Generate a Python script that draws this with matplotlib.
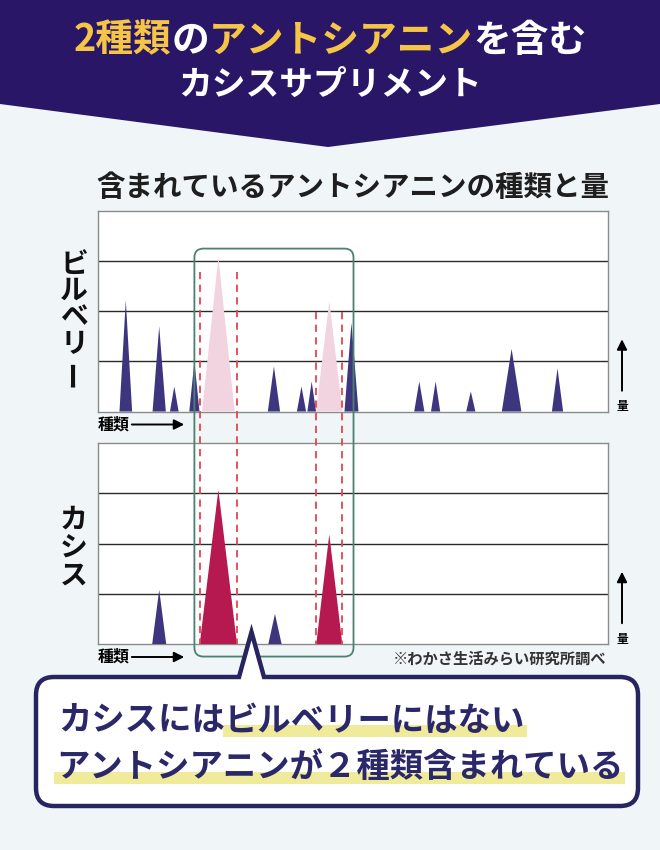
import numpy as np
import matplotlib
matplotlib.use("Agg")
import matplotlib.pyplot as plt
from matplotlib.path import Path
from matplotlib.patches import PathPatch, FancyBboxPatch, Rectangle, Polygon

plt.rcParams['font.family'] = ['Noto Sans CJK JP', 'DejaVu Sans']

W, H = 660, 850

# Peaks: position (0-100 along the "種類" axis), height (grid units), half width
bil_pos = [5.45, 12.0, 14.96, 18.9, 34.5, 39.9, 41.9, 49.7, 63.0, 66.2, 73.1, 81.1, 90.1]
bil_h = [2.22, 1.7, 0.5, 1.0, 0.9, 0.5, 0.6, 1.77, 0.6, 0.6, 0.4, 1.25, 0.86]
bil_w = [1.24, 1.3, 0.85, 1.0, 1.2, 0.9, 0.85, 1.37, 1.0, 0.9, 0.9, 1.92, 1.1]

# ghost peaks in bilberry (absent compounds)
ghost_pos = [23.6, 45.35]
ghost_h = [3.08, 2.2]
ghost_w = [3.2, 2.6]

cas_pos = [12.0, 34.7]
cas_h = [1.08, 0.6]
cas_w = [1.37, 1.3]

# compounds only in cassis
uniq_pos = [23.6, 45.35]
uniq_h = [3.07, 2.18]
uniq_w = [3.65, 2.55]
dash_top = [2.78, 1.98]

NAVY = "#3d367f"
PINK = "#f2d4e1"
CRIMSON = "#b5194f"
DASH = "#e0474e"
GREEN = "#4b8172"
BG = "#f0f5f7"
HEADER = "#2a1667"
GOLD = "#f5c645"
TXT = "#2b286a"

fig = plt.figure(figsize=(W / 100, H / 100), dpi=100)
fig.patch.set_facecolor(BG)

# background layer (header)
bg = fig.add_axes([0, 0, 1, 1], zorder=-1)
bg.set_xlim(0, W)
bg.set_ylim(H, 0)
bg.axis("off")
bg.add_patch(Polygon([(0, 0), (W, 0), (W, 104), (W / 2 - 2, 147), (0, 104)],
                     closed=True, facecolor=HEADER, edgecolor="none"))


def make_chart(bottom_px, top_px):
    ax = fig.add_axes([98 / W, (H - bottom_px) / H, 510 / W, (bottom_px - top_px) / H])
    ax.set_xlim(0, 100)
    ax.set_ylim(0, 4)
    ax.set_facecolor("white")
    ax.set_xticks([])
    ax.set_yticks([1, 2, 3])
    ax.tick_params(length=0, labelleft=False)
    ax.grid(axis="y", color="#2a2a2a", lw=1.0)
    for s in ax.spines.values():
        s.set_color("#8a8a8a")
        s.set_linewidth(1.0)
    return ax


def peaks(ax, pos, h, w, color):
    for c, hh, ww in zip(pos, h, w):
        ax.fill([c - ww, c, c + ww], [0, hh, 0], color=color, lw=0, zorder=3)


ax1 = make_chart(411.5, 211)
ax2 = make_chart(644, 443)

peaks(ax1, ghost_pos, ghost_h, ghost_w, PINK)
peaks(ax1, bil_pos, bil_h, bil_w, NAVY)
peaks(ax2, cas_pos, cas_h, cas_w, NAVY)
peaks(ax2, uniq_pos, uniq_h, uniq_w, CRIMSON)

# foreground layer
fg = fig.add_axes([0, 0, 1, 1], zorder=5)
fg.set_xlim(0, W)
fg.set_ylim(H, 0)
fg.axis("off")
fg.patch.set_alpha(0)


def px(ax, x, y):
    d = ax.transData.transform((x, y))
    return d[0], H - d[1]


# dashed guide lines at the base of the cassis-only peaks
for c, ww, top in zip(uniq_pos, uniq_w, dash_top):
    for xx in (c - ww, c + ww):
        x_a, y_a = px(ax1, xx, top)
        x_b, y_b = px(ax2, xx, 0)
        fg.plot([x_a, x_b], [y_a, y_b], color=DASH, lw=1.3, dashes=(4, 3))

# green frame around the two compounds
gx0, gy0 = px(ax1, 18.9, 3.25)
gx1, gy1 = px(ax2, 50.1, -0.25)
fg.add_patch(FancyBboxPatch((gx0, gy0), gx1 - gx0, gy1 - gy0,
                            boxstyle="round,pad=0,rounding_size=9",
                            facecolor="none", edgecolor=GREEN, lw=1.3))

# header title
renderer = fig.canvas.get_renderer()
segs = [("2種類", GOLD), ("の", "white"), ("アントシアニン", GOLD), ("を含む", "white")]
texts = [fg.text(0, 40, s, color=c, fontsize=27.2, fontweight="bold", va="center", ha="left")
         for s, c in segs]
widths = [t.get_window_extent(renderer).width for t in texts]
x = (W - sum(widths)) / 2
for t, wd in zip(texts, widths):
    t.set_x(x)
    x += wd
fg.text(W / 2, 84, "カシスサプリメント", color="white", fontsize=24.3,
        fontweight="bold", ha="center", va="center")

# chart title
fg.text(353, 188, "含まれているアントシアニンの種類と量", fontsize=20.5,
        fontweight="bold", color="#1e1e1e", ha="center", va="center")

# vertical side labels
for ch, yy in zip("ビルベリー", [265, 291, 317, 344, 373]):
    fg.text(74, yy, ch, fontsize=20, fontweight="bold", color="#111111",
            ha="center", va="center", rotation=90 if ch == "ー" else 0)
for ch, yy in zip("カシス", [520, 548, 576]):
    fg.text(74, yy, ch, fontsize=20, fontweight="bold", color="#111111",
            ha="center", va="center")

# axis hints
arrow = dict(arrowstyle="-|>,head_length=0.6,head_width=0.3", color="black", lw=1.4)
for base in (411.5, 644):
    fg.annotate("", xy=(622, base - 75), xytext=(622, base - 18), arrowprops=arrow)
    fg.text(622, base - 5, "量", fontsize=8.5, fontweight="bold", ha="center", va="center")
    fg.text(98, base + 13, "種類", fontsize=11.5, fontweight="bold", ha="left", va="center")
    fg.annotate("", xy=(187, base + 13), xytext=(129, base + 13), arrowprops=arrow)
fg.text(606, 658, "※わかさ生活みらい研究所調べ", fontsize=11, fontweight="bold",
        color="#333333", ha="right", va="center")

# callout box with pointer
x0, x1, y0, y1, r = 36, 638, 677, 806, 18
verts = [(x0 + r, y0), (239, y0), (251.5, 632), (264, y0), (x1 - r, y0),
         (x1, y0), (x1, y0 + r), (x1, y1 - r), (x1, y1), (x1 - r, y1),
         (x0 + r, y1), (x0, y1), (x0, y1 - r), (x0, y0 + r), (x0, y0), (x0 + r, y0),
         (x0 + r, y0)]
codes = [Path.MOVETO, Path.LINETO, Path.LINETO, Path.LINETO, Path.LINETO,
         Path.CURVE3, Path.CURVE3, Path.LINETO, Path.CURVE3, Path.CURVE3,
         Path.LINETO, Path.CURVE3, Path.CURVE3, Path.LINETO, Path.CURVE3, Path.CURVE3,
         Path.CLOSEPOLY]
fg.add_patch(PathPatch(Path(verts, codes), facecolor="white", edgecolor="#27245f",
                       lw=3.2, joinstyle="miter"))


def highlight_line(parts, x, y):
    for s, hl in parts:
        t = fg.text(x, y, s, fontsize=24, fontweight="bold", color=TXT,
                    ha="left", va="center", zorder=3)
        wd = t.get_window_extent(renderer).width
        if hl:
            fg.add_patch(Rectangle((x - 2, y + 4), wd + 4, 12, facecolor="#efeb9b",
                                   edgecolor="none", zorder=2))
        x += wd


highlight_line([("カシスには", False), ("ビルベリーにはない", True)], 58, 721)
highlight_line([("アントシアニンが２種類含まれている", True)], 56, 768)

fig.savefig("out.png", dpi=100, facecolor=BG)
